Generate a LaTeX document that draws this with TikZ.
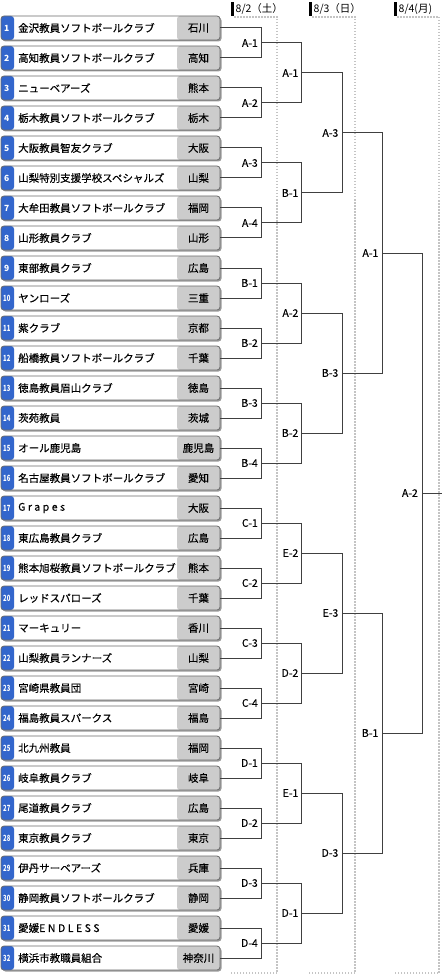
\documentclass[tikz,border=0pt]{standalone}
\usepackage{fontspec}
\setmainfont{Noto Sans CJK JP}
\usetikzlibrary{shadows}
\definecolor{numblue}{HTML}{3366CC}
\definecolor{prefgray}{HTML}{CCCCCC}
\definecolor{boxline}{HTML}{6A6A6A}
\definecolor{shadowgray}{HTML}{9A9A9A}
\definecolor{dotgray}{HTML}{C4C4C4}
\definecolor{linegray}{HTML}{404040}
\newcommand{\lsp}[1]{{\addfontfeature{LetterSpace=24}#1}}
\begin{document}
\begin{tikzpicture}[x=1pt,y=-1pt,
  teambox/.style={draw=boxline, line width=0.8pt, rounded corners=3pt,
    minimum width=219pt, minimum height=24pt, inner sep=0pt, fill=white,
    drop shadow={shadow xshift=1.5pt, shadow yshift=-1.5pt, fill=shadowgray, opacity=1},
    path picture={
      \fill[numblue] (path picture bounding box.south west) rectangle ([xshift=13pt]path picture bounding box.north west);
      \fill[prefgray] ([xshift=-43pt]path picture bounding box.south east) rectangle (path picture bounding box.north east);}},
  teamname/.style={anchor=west, inner sep=0pt, font=\fontsize{10.5}{12}\selectfont\addfontfeature{FakeBold=0.3}},
  prefname/.style={inner sep=0pt, font=\fontsize{10.5}{12}\selectfont\addfontfeature{FakeBold=0.3}},
  numtext/.style={inner sep=0pt, text=white, font=\fontsize{8.5}{9}\selectfont\bfseries},
  matchlabel/.style={anchor=east, inner sep=0pt, font=\fontsize{10.5}{12}\selectfont\addfontfeature{FakeBold=0.3}},
  bracket/.style={draw=linegray, line width=1pt},
  dotline/.style={draw=dotgray, line width=2pt, dash pattern=on 1.5pt off 1.5pt},
  headtext/.style={anchor=west, inner sep=0pt, font=\fontsize{10.5}{11}\selectfont}]
\useasboundingbox (0,0) rectangle (442,976);

% date columns
\foreach \c/\xl/\xr/\d in {1/231/277/{8/2（土）},2/309/355/{8/3（日）},3/394/439/{8/4(月)}}{
  \fill[black] (\xl,2) rectangle ({\xl+3},16);
  \node[headtext] (h\c) at ({\xl+4.5},9) {\d};
  \draw[dotline] ({\xl+3},17) -- (\xr,17) -- (\xr,973) -- (\xl,973);
}

% teams
\foreach \i/\nm/\pf in {
 1/金沢教員ソフトボールクラブ/石川,
 2/高知教員ソフトボールクラブ/高知,
 3/ニューベアーズ/熊本,
 4/栃木教員ソフトボールクラブ/栃木,
 5/大阪教員智友クラブ/大阪,
 6/山梨特別支援学校スペシャルズ/山梨,
 7/大牟田教員ソフトボールクラブ/福岡,
 8/山形教員クラブ/山形,
 9/東部教員クラブ/広島,
 10/ヤンローズ/三重,
 11/紫クラブ/京都,
 12/船橋教員ソフトボールクラブ/千葉,
 13/徳島教員眉山クラブ/徳島,
 14/茨苑教員/茨城,
 15/オール鹿児島/鹿児島,
 16/名古屋教員ソフトボールクラブ/愛知,
 17/{\lsp{Grapes}}/大阪,
 18/東広島教員クラブ/広島,
 19/熊本旭桜教員ソフトボールクラブ/熊本,
 20/レッドスパローズ/千葉,
 21/マーキュリー/香川,
 22/山梨教員ランナーズ/山梨,
 23/宮崎県教員団/宮崎,
 24/福島教員スパークス/福島,
 25/北九州教員/福岡,
 26/岐阜教員クラブ/岐阜,
 27/尾道教員クラブ/広島,
 28/東京教員クラブ/東京,
 29/伊丹サーベアーズ/兵庫,
 30/静岡教員ソフトボールクラブ/静岡,
 31/{愛媛\lsp{ENDLESS}}/愛媛,
 32/横浜市教職員組合/神奈川}{
  \pgfmathsetmacro\yy{28+30*(\i-1)}
  \node[teambox] (t\i) at (110.5,\yy) {};
  \ifnum\i<10
    \node[numtext] (k\i) at (6.8,\yy) {\i};
  \else
    \node[numtext] (k\i) at (6.8,\yy) {\scalebox{0.7}[1]{\i}};
  \fi
  \node[teamname] (n\i) at (18,\yy) {\nm};
  \node[prefname] (p\i) at (198.5,\yy) {\pf};
}

% round 1
\foreach \k/\lab in {1/A-1,2/A-2,3/A-3,4/A-4,5/B-1,6/B-2,7/B-3,8/B-4,
                     9/C-1,10/C-2,11/C-3,12/C-4,13/D-1,14/D-2,15/D-3,16/D-4}{
  \pgfmathsetmacro\yy{43+60*(\k-1)}
  \pgfmathtruncatemacro\a{2*\k-1}
  \pgfmathtruncatemacro\b{2*\k}
  \coordinate (ra\k) at (261.5,\yy);
  \node[matchlabel] (la\k) at (258,\yy) {\lab};
  \draw[bracket] (t\a.east) -| (ra\k);
  \draw[bracket] (t\b.east) -| (ra\k);
}
% round 2
\foreach \k/\lab in {1/A-1,2/B-1,3/A-2,4/B-2,5/E-2,6/D-2,7/E-1,8/D-1}{
  \pgfmathsetmacro\yy{73+120*(\k-1)}
  \pgfmathtruncatemacro\a{2*\k-1}
  \pgfmathtruncatemacro\b{2*\k}
  \coordinate (rb\k) at (301.5,\yy);
  \node[matchlabel] (lb\k) at (298.5,\yy) {\lab};
  \draw[bracket] (ra\a) -| (rb\k);
  \draw[bracket] (ra\b) -| (rb\k);
}
% round 3
\foreach \k/\lab in {1/A-3,2/B-3,3/E-3,4/D-3}{
  \pgfmathsetmacro\yy{133+240*(\k-1)}
  \pgfmathtruncatemacro\a{2*\k-1}
  \pgfmathtruncatemacro\b{2*\k}
  \coordinate (rc\k) at (342,\yy);
  \node[matchlabel] (lc\k) at (338.5,\yy) {\lab};
  \draw[bracket] (rb\a) -| (rc\k);
  \draw[bracket] (rb\b) -| (rc\k);
}
% round 4
\foreach \k/\lab in {1/A-1,2/B-1}{
  \pgfmathsetmacro\yy{253+480*(\k-1)}
  \pgfmathtruncatemacro\a{2*\k-1}
  \pgfmathtruncatemacro\b{2*\k}
  \coordinate (rd\k) at (382,\yy);
  \node[matchlabel] (ld\k) at (378.5,\yy) {\lab};
  \draw[bracket] (rc\a) -| (rd\k);
  \draw[bracket] (rc\b) -| (rd\k);
}
% final
\coordinate (re) at (422,493);
\coordinate (fin) at (442,493);
\node[matchlabel] (le) at (418,493) {A-2};
\draw[bracket] (rd1) -| (re);
\draw[bracket] (rd2) -| (re);
\draw[bracket] (re) -- (fin);
\end{tikzpicture}
\end{document}
